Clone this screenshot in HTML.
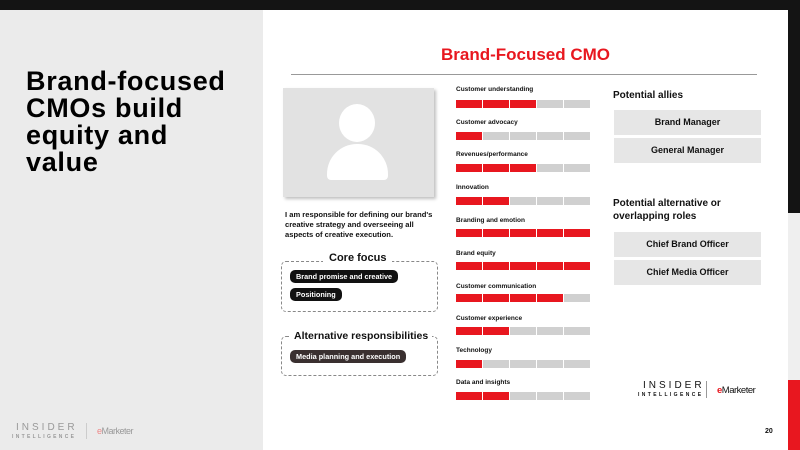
<!DOCTYPE html>
<html><head><style>
*{margin:0;padding:0;box-sizing:border-box}
body{width:800px;height:450px;position:relative;overflow:hidden;font-family:"Liberation Sans",sans-serif;background:#ebebeb}
.a{position:absolute}
.lbl{position:absolute;left:456px;font-size:6.5px;font-weight:bold;color:#111}
.bar{position:absolute;left:456px;width:134px;height:8px;display:flex;gap:1px}
.bar i{flex:1;background:#d0d0d0}
.bar i.r{background:#e8171f}
.box{position:absolute;left:614px;width:147px;height:25px;background:#e6e6e6;font-size:9px;font-weight:bold;text-align:center;line-height:25px;color:#111}
.pill{position:absolute;left:290px;height:13px;border-radius:5px;background:#111;color:#fff;font-size:7.3px;font-weight:bold;line-height:13px;padding:0 6px}
</style></head><body>
<div class="a" style="left:0;top:0;width:800px;height:10px;background:#141414"></div>
<div class="a" style="left:788px;top:10px;width:12px;height:203px;background:#141414"></div>
<div class="a" style="left:788px;top:213px;width:12px;height:167px;background:#efefef"></div>
<div class="a" style="left:788px;top:380px;width:12px;height:70px;background:#e8171f"></div>
<div class="a" style="left:263px;top:10px;width:525px;height:440px;background:#fff"></div>
<div class="a" style="left:26px;top:68px;font-size:27px;font-weight:bold;line-height:27px;color:#000;letter-spacing:0.7px">Brand-focused<br>CMOs build<br>equity and<br>value</div>
<div class="a" style="left:16px;top:423px;font-size:10px;letter-spacing:3px;color:#999;line-height:10px">INSIDER</div>
<div class="a" style="left:12px;top:434px;font-size:5px;letter-spacing:2.3px;color:#999;font-weight:bold">INTELLIGENCE</div>
<div class="a" style="left:86px;top:423px;width:1px;height:16px;background:#ccc"></div>
<div class="a" style="left:97px;top:426px;font-size:9px;color:#999;letter-spacing:-0.5px"><span style="color:#e88">e</span>Marketer</div>
<div class="a" style="left:263px;top:45px;width:525px;text-align:center;font-size:17px;font-weight:bold;color:#e8171f">Brand-Focused CMO</div>
<div class="a" style="left:291px;top:74px;width:466px;height:1px;background:#999"></div>
<div class="a" style="left:283px;top:88px;width:151px;height:109px;background:#e2e2e2;box-shadow:2px 2px 3px rgba(0,0,0,.25)">
<div class="a" style="left:56px;top:16px;width:36px;height:38px;border-radius:50%;background:#fff"></div>
<div class="a" style="left:44px;top:56px;width:61px;height:36px;border-radius:30px 30px 4px 4px;background:#fff"></div>
</div>
<div class="a" style="left:285px;top:210px;font-size:7.6px;font-weight:bold;line-height:10px;color:#111;white-space:nowrap">I am responsible for defining our brand's<br>creative strategy and overseeing all<br>aspects of creative execution.</div>
<div class="a" style="left:281px;top:261px;width:157px;height:51px;border:1px dashed #888;border-radius:5px"></div>
<div class="a" style="left:323px;top:252px;background:#fff;padding:0 6px;font-size:11px;font-weight:bold;color:#111">Core focus</div>
<div class="pill" style="top:270px">Brand promise and creative</div>
<div class="pill" style="top:288px">Positioning</div>
<div class="a" style="left:281px;top:336px;width:157px;height:40px;border:1px dashed #888;border-radius:5px"></div>
<div class="a" style="left:290px;top:330px;background:#fff;padding:0 4px;font-size:10.5px;font-weight:bold;color:#111">Alternative responsibilities</div>
<div class="pill" style="top:350px;background:#3a3030">Media planning and execution</div>

<div class="lbl" style="top:86px">Customer understanding</div>
<div class="bar" style="top:100px"><i class="r"></i><i class="r"></i><i class="r"></i><i></i><i></i></div>
<div class="lbl" style="top:119px">Customer advocacy</div>
<div class="bar" style="top:132px"><i class="r"></i><i></i><i></i><i></i><i></i></div>
<div class="lbl" style="top:151px">Revenues/performance</div>
<div class="bar" style="top:164px"><i class="r"></i><i class="r"></i><i class="r"></i><i></i><i></i></div>
<div class="lbl" style="top:184px">Innovation</div>
<div class="bar" style="top:197px"><i class="r"></i><i class="r"></i><i></i><i></i><i></i></div>
<div class="lbl" style="top:217px">Branding and emotion</div>
<div class="bar" style="top:229px"><i class="r"></i><i class="r"></i><i class="r"></i><i class="r"></i><i class="r"></i></div>
<div class="lbl" style="top:250px">Brand equity</div>
<div class="bar" style="top:262px"><i class="r"></i><i class="r"></i><i class="r"></i><i class="r"></i><i class="r"></i></div>
<div class="lbl" style="top:283px">Customer communication</div>
<div class="bar" style="top:294px"><i class="r"></i><i class="r"></i><i class="r"></i><i class="r"></i><i></i></div>
<div class="lbl" style="top:315px">Customer experience</div>
<div class="bar" style="top:327px"><i class="r"></i><i class="r"></i><i></i><i></i><i></i></div>
<div class="lbl" style="top:347px">Technology</div>
<div class="bar" style="top:360px"><i class="r"></i><i></i><i></i><i></i><i></i></div>
<div class="lbl" style="top:379px">Data and insights</div>
<div class="bar" style="top:392px"><i class="r"></i><i class="r"></i><i></i><i></i><i></i></div>

<div class="a" style="left:613px;top:90px;font-size:10px;font-weight:bold;color:#111">Potential allies</div>
<div class="box" style="top:110px">Brand Manager</div>
<div class="box" style="top:138px">General Manager</div>
<div class="a" style="left:613px;top:197px;font-size:10px;font-weight:bold;color:#111;line-height:13px">Potential alternative or<br>overlapping roles</div>
<div class="box" style="top:232px">Chief Brand Officer</div>
<div class="box" style="top:260px">Chief Media Officer</div>

<div class="a" style="left:643px;top:381px;font-size:10px;letter-spacing:3px;color:#111;line-height:10px">INSIDER</div>
<div class="a" style="left:638px;top:392px;font-size:5px;letter-spacing:2.4px;color:#111;font-weight:bold">INTELLIGENCE</div>
<div class="a" style="left:706px;top:381px;width:1px;height:17px;background:#999"></div>
<div class="a" style="left:717px;top:385px;font-size:9.5px;color:#111;letter-spacing:-0.5px"><span style="color:#e8171f;font-weight:bold">e</span>Marketer</div>
<div class="a" style="left:765px;top:428px;font-size:7px;font-weight:bold;color:#111">20</div>
</body></html>
